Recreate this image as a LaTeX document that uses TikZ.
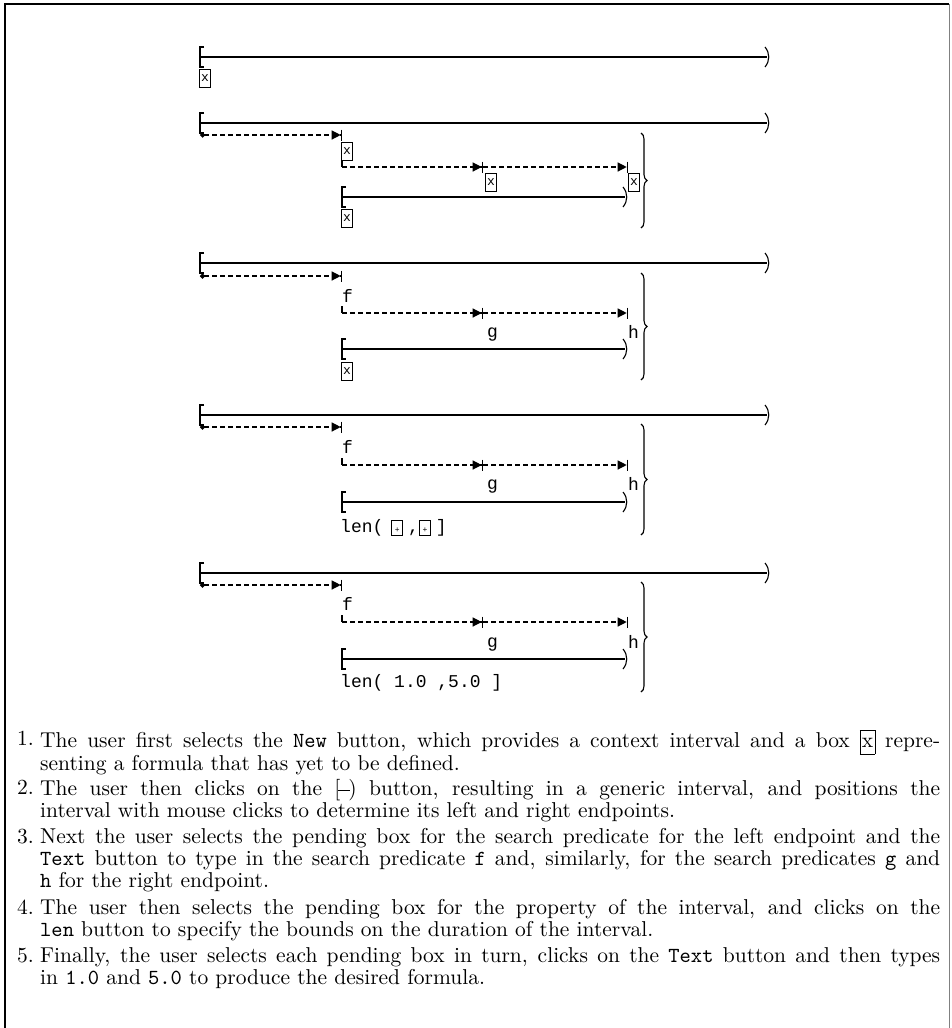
\documentclass[tikz,border=0pt]{standalone}
\usepackage{fontspec}
\newfontfamily\courier{Liberation Mono}
\newfontfamily\capfont{lmroman10-regular.otf}
\newfontfamily\captt{lmmono10-regular.otf}
\usetikzlibrary{arrows.meta,decorations.pathreplacing}

\newcommand{\pendbox}{{\setlength\fboxsep{1.5pt}\setlength\fboxrule{0.9pt}%
  \fbox{\makebox[7pt]{\rule[-1.5pt]{0pt}{11pt}\fontsize{8}{8}\selectfont +}}}}
\newcommand{\ivglyph}{[\kern-2pt\rule[5pt]{12pt}{0.6pt}\kern-2pt)}
\newcommand{\btn}[1]{{\captt #1}}

\tikzset{
  ctxline/.style={line width=1.4pt},
  ivline/.style={line width=1.1pt},
  srch/.style={line width=1.2pt, dash pattern=on 5pt off 3pt},
  tobar/.style={-{Triangle[length=9pt,width=9pt,sep=0pt]Bar[width=11pt,line width=1.3pt]}},
  frombar/.style={{Circle[length=5pt]}-{Triangle[length=9pt,width=9pt,sep=0pt]Bar[width=11pt,line width=1.3pt]}},
  pend/.style={draw, line width=1pt, inner sep=0pt, minimum width=11pt, minimum height=18pt,
    font=\courier\fontsize{13}{13}\selectfont},
  pred/.style={inner sep=0pt, anchor=base west, font=\courier\fontsize{18}{18}\selectfont},
  cbrace/.style={decorate, decoration={brace, amplitude=6pt}, line width=1.1pt},
  item/.style={inner sep=0pt, anchor=north west, text width=900pt, align=justify,
    font=\capfont\fontsize{21.5}{22}\selectfont},
  num/.style={inner sep=0pt, anchor=north east, font=\capfont\fontsize{21.5}{22}\selectfont},
  lbrk/.pic={\draw[line width=1.1pt] (4,-10) -- (0,-10) -- (0,10) -- (4,10);},
  rbrk/.pic={\draw[line width=1.1pt] (-2,-10) .. controls (3,-4) and (3,4) .. (-2,10);}
}

\begin{document}
\begin{tikzpicture}[x=1pt, y=-1pt]
    \useasboundingbox (0,0) rectangle (951,1028);
    % Frame
    \draw[line width=1.2pt] (5,1028) -- (5,4) -- (949,4);
    \draw[line width=0.6pt, gray] (949,4) -- (949,1028);

    % Step 1: context interval and empty formula
    \coordinate (m1l) at (200,57);
    \coordinate (m1r) at (767,57);
    \draw[ctxline] (m1l) -- (m1r);
    \pic at (m1l) {lbrk};
    \pic at (m1r) {rbrk};
    \node[pend] (x1) at (205,78) {x};

    % Step 2: generic interval
    \coordinate (m2l) at (200,123);
    \coordinate (m2r) at (767,123);
    \coordinate (d2a) at (200,135);
    \coordinate (d2b) at (342,135);
    \coordinate (e2a) at (342,167);
    \coordinate (e2m) at (483,167);
    \coordinate (e2b) at (628,167);
    \coordinate (i2l) at (342,197);
    \coordinate (i2r) at (625,197);
    \draw[ctxline] (m2l) -- (m2r);
    \pic at (m2l) {lbrk};
    \pic at (m2r) {rbrk};
    \draw[srch, frombar] (d2a) -- (d2b);
    \node[pend] (x2a) at (347,151) {x};
    \draw[ivline] (e2a) ++(0,-7) -- (e2a);
    \draw[srch, tobar] (e2a) -- (e2m);
    \draw[srch, tobar] (e2m) -- (e2b);
    \node[pend] (x2b) at (491,182) {x};
    \node[pend] (x2c) at (634,182) {x};
    \draw[ivline] (i2l) -- (i2r);
    \pic at (i2l) {lbrk};
    \pic at (i2r) {rbrk};
    \node[pend] (x2d) at (347,218) {x};
    \draw[cbrace] (641,133) -- (641,228);

    % Step 3: search predicates f, g, h
    \coordinate (m3l) at (200,263);
    \coordinate (m3r) at (767,263);
    \coordinate (d3a) at (200,276);
    \coordinate (d3b) at (342,276);
    \coordinate (e3a) at (342,313);
    \coordinate (e3m) at (483,313);
    \coordinate (e3b) at (628,313);
    \coordinate (i3l) at (342,349);
    \coordinate (i3r) at (625,349);
    \draw[ctxline] (m3l) -- (m3r);
    \pic at (m3l) {lbrk};
    \pic at (m3r) {rbrk};
    \draw[srch, frombar] (d3a) -- (d3b);
    \node[pred] (f3) at (342,302) {f};
    \draw[ivline] (e3a) ++(0,-7) -- (e3a);
    \draw[srch, tobar] (e3a) -- (e3m);
    \draw[srch, tobar] (e3m) -- (e3b);
    \node[pred] (g3) at (487,337) {g};
    \node[pred] (h3) at (628,338) {h};
    \draw[ivline] (i3l) -- (i3r);
    \pic at (i3l) {lbrk};
    \pic at (i3r) {rbrk};
    \node[pend] (x3) at (347,371) {x};
    \draw[cbrace] (641,273) -- (641,380);

    % Step 4: duration property
    \coordinate (m4l) at (200,415);
    \coordinate (m4r) at (767,415);
    \coordinate (d4a) at (200,427);
    \coordinate (d4b) at (342,427);
    \coordinate (e4a) at (342,465);
    \coordinate (e4m) at (483,465);
    \coordinate (e4b) at (628,465);
    \coordinate (i4l) at (342,502);
    \coordinate (i4r) at (625,502);
    \draw[ctxline] (m4l) -- (m4r);
    \pic at (m4l) {lbrk};
    \pic at (m4r) {rbrk};
    \draw[srch, frombar] (d4a) -- (d4b);
    \node[pred] (f4) at (342,453) {f};
    \draw[ivline] (e4a) ++(0,-7) -- (e4a);
    \draw[srch, tobar] (e4a) -- (e4m);
    \draw[srch, tobar] (e4m) -- (e4b);
    \node[pred] (g4) at (487,489) {g};
    \node[pred] (h4) at (628,490) {h};
    \draw[ivline] (i4l) -- (i4r);
    \pic at (i4l) {lbrk};
    \pic at (i4r) {rbrk};
    \node[pred] (len4) at (340,532) {len(\hspace{8pt}\pendbox\hspace{5pt},\pendbox\hspace{5pt}]};
    \draw[cbrace] (641,424) -- (641,535);

    % Step 5: bounds filled in
    \coordinate (m5l) at (200,573);
    \coordinate (m5r) at (767,573);
    \coordinate (d5a) at (200,585);
    \coordinate (d5b) at (342,585);
    \coordinate (e5a) at (342,622);
    \coordinate (e5m) at (483,622);
    \coordinate (e5b) at (628,622);
    \coordinate (i5l) at (342,659);
    \coordinate (i5r) at (625,659);
    \draw[ctxline] (m5l) -- (m5r);
    \pic at (m5l) {lbrk};
    \pic at (m5r) {rbrk};
    \draw[srch, frombar] (d5a) -- (d5b);
    \node[pred] (f5) at (342,610) {f};
    \draw[ivline] (e5a) ++(0,-7) -- (e5a);
    \draw[srch, tobar] (e5a) -- (e5m);
    \draw[srch, tobar] (e5m) -- (e5b);
    \node[pred] (g5) at (487,647) {g};
    \node[pred] (h5) at (628,648) {h};
    \draw[ivline] (i5l) -- (i5r);
    \pic at (i5l) {lbrk};
    \pic at (i5r) {rbrk};
    \node[pred] (len5) at (340,687) {len( 1.0 ,5.0 ]};
    \draw[cbrace] (641,582) -- (641,692);

    % Caption
    \node[num] (n1) at (34,730) {\strut 1.};
    \node[item] (item1) at (40,730) {\strut The user first selects the \btn{New} button, which provides a context interval and a box {\setlength\fboxsep{1.5pt}\fbox{\rule[-5pt]{0pt}{20pt}x}} repre-\linebreak senting a formula that has yet to be defined.};
    \node[num] (n2) at (34,779) {\strut 2.};
    \node[item] (item2) at (40,779) {\strut The user then clicks on the \ivglyph{} button, resulting in a generic interval, and positions the\linebreak interval with mouse clicks to determine its left and right endpoints.};
    \node[num] (n3) at (34,828) {\strut 3.};
    \node[item] (item3) at (40,828) {\strut Next the user selects the pending box for the search predicate for the left endpoint and the\linebreak \btn{Text} button to type in the search predicate \btn{f} and, similarly, for the search predicates \btn{g} and\linebreak \btn{h} for the right endpoint.};
    \node[num] (n4) at (34,899) {\strut 4.};
    \node[item] (item4) at (40,899) {\strut The user then selects the pending box for the property of the interval, and clicks on the\linebreak \btn{len} button to specify the bounds on the duration of the interval.};
    \node[num] (n5) at (34,947) {\strut 5.};
    \node[item] (item5) at (40,947) {\strut Finally, the user selects each pending box in turn, clicks on the \btn{Text} button and then types\linebreak in \btn{1.0} and \btn{5.0} to produce the desired formula.};
\end{tikzpicture}
\end{document}
